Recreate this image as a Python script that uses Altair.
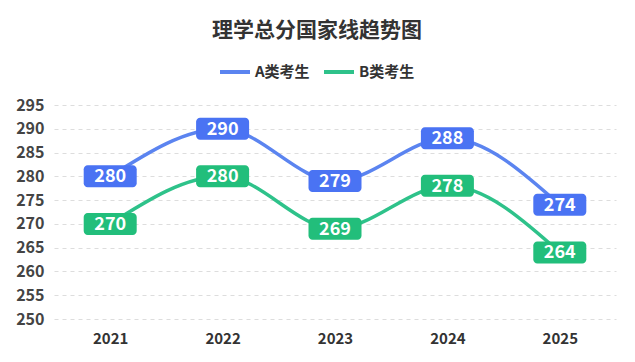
import altair as alt
import pandas as pd

years = ["2021", "2022", "2023", "2024", "2025"]
a_scores = [280, 290, 279, 288, 274]
b_scores = [270, 280, 269, 278, 264]
series = ["A类考生", "B类考生"]
y_ticks = [250, 255, 260, 265, 270, 275, 280, 285, 290, 295]

df = pd.DataFrame({
    "year": years * 2,
    "score": a_scores + b_scores,
    "group": [series[0]] * len(years) + [series[1]] * len(years),
})

FONT = "Noto Sans CJK SC"
line_colors = ["#5B84F0", "#2EC28A"]
box_colors = ["#4A73F3", "#22BE7B"]

x_enc = alt.X("year:N", scale=alt.Scale(type="point", padding=0.5),
              axis=alt.Axis(title=None, labelAngle=0, labelFontSize=15, labelFontWeight="bold",
                            labelColor="#333", ticks=False, domain=False, labelPadding=12))
y_enc = alt.Y("score:Q", scale=alt.Scale(domain=[250, 295], nice=False, zero=False),
              axis=alt.Axis(title=None, values=y_ticks, labelFontSize=16, labelFontWeight="bold",
                            labelColor="#444", ticks=False, domain=False, labelPadding=10,
                            gridDash=[4, 4], gridColor="#DDDDDD", gridWidth=1))

base = alt.Chart(df)

lines = base.mark_line(interpolate="monotone", strokeWidth=3.5, strokeCap="round").encode(
    x=x_enc, y=y_enc,
    color=alt.Color("group:N", scale=alt.Scale(domain=series, range=line_colors),
                    legend=alt.Legend(title=None, orient="none", direction="horizontal",
                                      legendX=164, legendY=-50, symbolType="stroke",
                                      symbolSize=900, symbolStrokeWidth=4,
                                      labelFontSize=15, labelFontWeight="bold",
                                      labelColor="#333", columnPadding=6, labelOffset=3)),
)

boxes = base.mark_rect(width=53, height=22, cornerRadius=4).encode(
    x=x_enc, y=y_enc,
    fill=alt.Fill("group:N", scale=alt.Scale(domain=series, range=box_colors), legend=None),
)

labels = base.mark_text(color="white", fontSize=18, fontWeight="bold", baseline="middle", dy=1).encode(
    x=x_enc, y=y_enc, text=alt.Text("score:Q"),
)

chart = alt.layer(lines, boxes, labels).properties(
    width=562, height=214,
    autosize=alt.AutoSizeParams(type="none"),
    padding={"left": 46, "right": 11, "top": 97, "bottom": 35},
    title=alt.TitleParams("理学总分国家线趋势图", fontSize=21, fontWeight="bold", color="#333",
                          anchor="middle", offset=14, dx=-18, font=FONT),
).configure(font=FONT).configure_view(stroke=None).configure_axis(labelFont=FONT).configure_legend(labelFont=FONT)

chart.save("out.html", embed_options={"renderer": "svg", "actions": False})
